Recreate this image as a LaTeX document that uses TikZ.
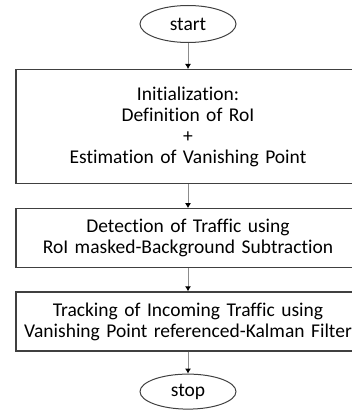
\documentclass[tikz,border=0pt]{standalone}
\usepackage{fontspec}
\setmainfont{Carlito}[Ligatures=NoCommon]
\usetikzlibrary{arrows.meta,shapes.geometric,positioning}

\begin{document}
\begin{tikzpicture}[
    terminal/.style={ellipse, draw=black!75, line width=1pt, minimum width=96pt, minimum height=37pt, inner sep=0pt},
    process/.style={rectangle, draw=black!75, line width=1.2pt, minimum width=344pt, text width=340pt, align=center, inner sep=0pt},
    flow/.style={draw=black!45, line width=1pt, -{Latex[black, length=5pt, width=6pt]}},
    font=\fontsize{19.5}{21}\selectfont
  ]
  \useasboundingbox (0,0) rectangle (351pt,-414pt);

  \node[terminal] (start) at (188pt,-24pt) {start};
  \node[process, minimum height=114pt] (init) [below=26pt of start]
    {Initialization:\\ Definition of RoI\\ +\\ Estimation of Vanishing Point};
  \node[process, minimum height=59pt]  (detect) [below=24pt of init]
    {Detection of Traffic using\\ RoI masked-Background Subtraction};
  \node[process, minimum height=59pt]  (track) [below=23pt of detect]
    {Tracking of Incoming Traffic using\\ Vanishing Point referenced-Kalman Filter};
  \node[terminal, minimum height=35pt] (stop) [below=22pt of track] {stop};

  \draw[flow] (start) -- (init);
  \draw[flow] (init) -- (detect);
  \draw[flow] (detect) -- (track);
  \draw[flow] (track) -- (stop);
\end{tikzpicture}
\end{document}
